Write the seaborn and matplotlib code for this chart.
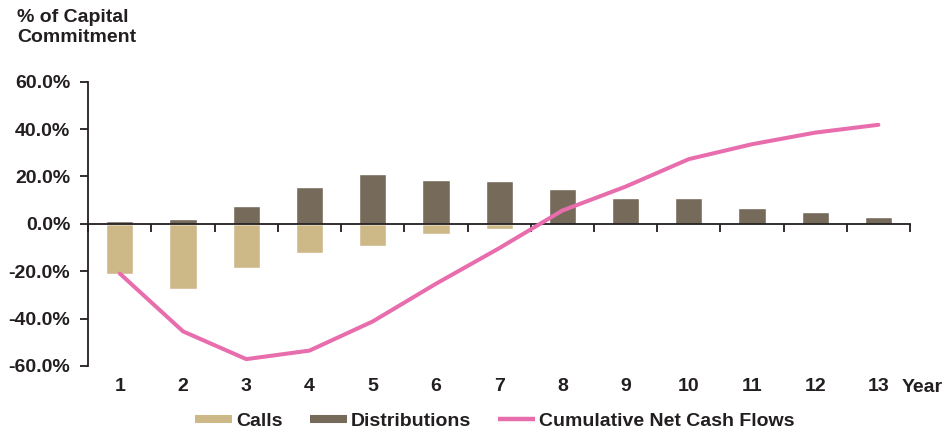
import numpy as np
import pandas as pd
import matplotlib
matplotlib.use("Agg")
import matplotlib.pyplot as plt
from matplotlib.lines import Line2D
from matplotlib.ticker import FuncFormatter
import seaborn as sns

# Fund cash-flow profile, % of capital commitment by year
years = [1, 2, 3, 4, 5, 6, 7, 8, 9, 10, 11, 12, 13]
calls = [-21.0, -27.3, -18.6, -12.1, -9.3, -4.5, -2.1, 0, 0, 0, 0, 0, 0]
distributions = [1.1, 2.1, 7.6, 15.5, 21.1, 18.6, 18.1, 14.8, 11.0, 11.0, 6.8, 5.1, 3.0]
cumulative = [-21.0, -45.4, -57.1, -53.5, -41.2, -25.3, -10.3, 5.6, 15.7, 27.3, 33.6, 38.5, 41.8]
y_ticks = [-60, -40, -20, 0, 20, 40, 60]
legend_labels = ["Calls", "Distributions", "Cumulative Net Cash Flows"]

CALLS_COLOR = "#CDB887"
DIST_COLOR = "#766B5A"
LINE_COLOR = "#E86DAD"
INK = "#231F20"

df = pd.DataFrame({"year": years, "calls": calls,
                   "distributions": distributions, "cumulative": cumulative})

sns.set_style("white")
plt.rcParams["font.family"] = ["Liberation Sans", "DejaVu Sans"]
plt.rcParams["font.weight"] = "bold"
plt.rcParams["text.color"] = INK

fig = plt.figure(figsize=(9.48, 4.34), dpi=100)
ax = fig.add_axes([0.0931, 0.1567, 0.8668, 0.6551])

sns.barplot(data=df, x="year", y="calls", native_scale=True, orient="x",
            width=0.43, color=CALLS_COLOR, saturation=1, errorbar=None,
            ax=ax, zorder=2)
sns.barplot(data=df, x="year", y="distributions", native_scale=True, orient="x",
            width=0.43, color=DIST_COLOR, saturation=1, errorbar=None,
            ax=ax, zorder=2)
sns.lineplot(data=df, x="year", y="cumulative", color=LINE_COLOR, lw=2.9,
             ax=ax, zorder=4)

ax.set_xlabel("")
ax.set_ylabel("")
ax.set_xlim(0.5, 13.5)
ax.set_ylim(-60, 60)

# y axis
ax.set_yticks(y_ticks)
ax.yaxis.set_major_formatter(FuncFormatter(lambda v, _: f"{v:.1f}%"))
ax.tick_params(axis="y", length=6, width=1.3, color=INK, pad=7,
               labelsize=14, labelcolor=INK, direction="out", left=True)

# x axis drawn along the zero line, year labels below the plot
ax.spines["bottom"].set_position(("data", 0))
ax.set_xticks(years)
ax.set_xticklabels([str(y) for y in years])
ax.set_xticks(np.arange(0.5, 13.6, 1), minor=True)
ax.tick_params(axis="x", which="major", length=0, pad=111,
               labelsize=14, labelcolor=INK)
ax.tick_params(axis="x", which="minor", length=6, width=1.3,
               color=INK, direction="out", bottom=True)

for side in ("top", "right"):
    ax.spines[side].set_visible(False)
for side in ("left", "bottom"):
    ax.spines[side].set_color(INK)
    ax.spines[side].set_linewidth(1.3)
    ax.spines[side].set_zorder(3)
ax.grid(False)

fig.text(17 / 948, 1 - 9 / 434, "% of Capital\nCommitment", ha="left", va="top",
         fontsize=14, fontweight="bold", linespacing=1.2)
fig.text(922 / 948, 1 - 388 / 434, "Year", ha="center", va="center",
         fontsize=14, fontweight="bold")

handles = [Line2D([], [], color=CALLS_COLOR, lw=5.8, solid_capstyle="butt"),
           Line2D([], [], color=DIST_COLOR, lw=5.8, solid_capstyle="butt"),
           Line2D([], [], color=LINE_COLOR, lw=3.2, solid_capstyle="butt")]
fig.legend(handles, legend_labels, loc="center", bbox_to_anchor=(0.522, 1 - 421 / 434),
           ncol=3, frameon=False, fontsize=14, handlelength=1.9,
           handletextpad=0.2, columnspacing=1.4)

fig.savefig("out.png", dpi=100)
